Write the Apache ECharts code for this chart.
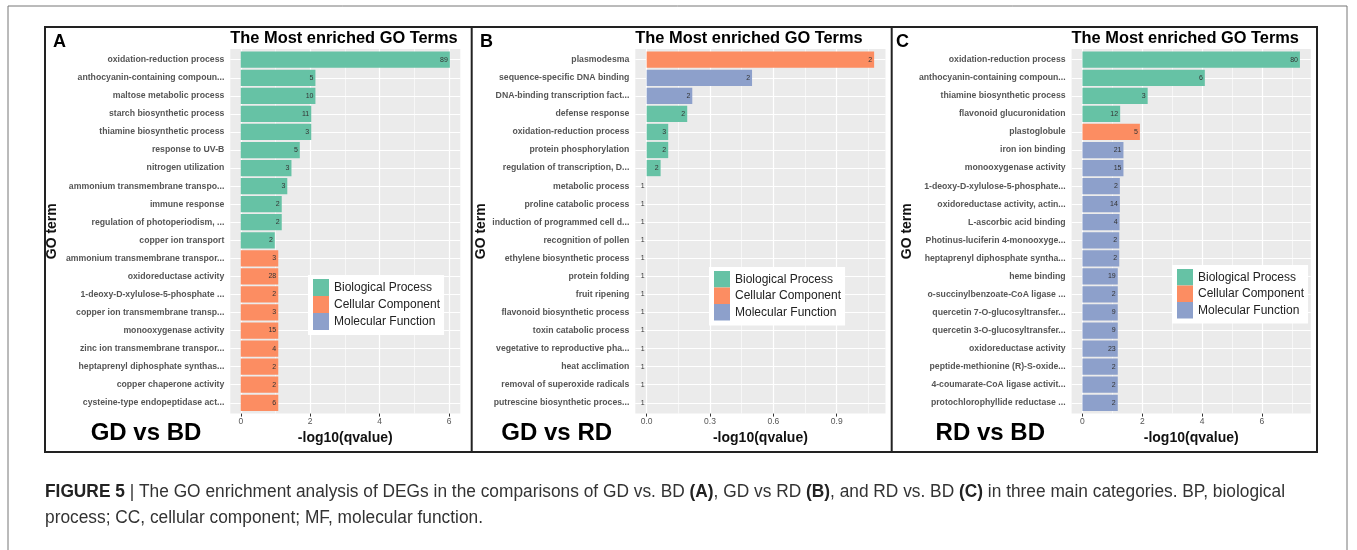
<!DOCTYPE html>
<html>
<head>
<meta charset="utf-8">
<script src="https://cdn.jsdelivr.net/npm/echarts@6/dist/echarts.min.js"></script>
<style>
  html, body { margin: 0; padding: 0; background: #fff; }
  #chart { width: 1357px; height: 550px; }
</style>
</head>
<body>
<div id="chart"></div>
<script>
// ---------- data ----------
const legendNames = ['Biological Process', 'Cellular Component', 'Molecular Function'];
const classKeys = ['BP', 'CC', 'MF'];

// A: GD vs BD
const termsA = [
  'oxidation-reduction process', 'anthocyanin-containing compoun...', 'maltose metabolic process',
  'starch biosynthetic process', 'thiamine biosynthetic process', 'response to UV-B',
  'nitrogen utilization', 'ammonium transmembrane transpo...', 'immune response',
  'regulation of photoperiodism, ...', 'copper ion transport', 'ammonium transmembrane transpor...',
  'oxidoreductase activity', '1-deoxy-D-xylulose-5-phosphate ...', 'copper ion transmembrane transp...',
  'monooxygenase activity', 'zinc ion transmembrane transpor...', 'heptaprenyl diphosphate synthas...',
  'copper chaperone activity', 'cysteine-type endopeptidase act...'
];
const qvalA = [6.02, 2.15, 2.15, 2.03, 2.03, 1.70, 1.46, 1.34, 1.18, 1.18, 0.98,
  1.08, 1.08, 1.08, 1.08, 1.08, 1.08, 1.08, 1.08, 1.08];
const countsA = [89, 5, 10, 11, 3, 5, 3, 3, 2, 2, 2, 3, 28, 2, 3, 15, 4, 2, 2, 6];
const classA = ['BP', 'BP', 'BP', 'BP', 'BP', 'BP', 'BP', 'BP', 'BP', 'BP', 'BP',
  'CC', 'CC', 'CC', 'CC', 'CC', 'CC', 'CC', 'CC', 'CC'];
const xTicksA = [0, 2, 4, 6];
const xMinorA = [1, 3, 5];

// B: GD vs RD
const termsB = [
  'plasmodesma', 'sequence-specific DNA binding', 'DNA-binding transcription fact...',
  'defense response', 'oxidation-reduction process', 'protein phosphorylation',
  'regulation of transcription, D...', 'metabolic process', 'proline catabolic process',
  'induction of programmed cell d...', 'recognition of pollen', 'ethylene biosynthetic process',
  'protein folding', 'fruit ripening', 'flavonoid biosynthetic process',
  'toxin catabolic process', 'vegetative to reproductive pha...', 'heat acclimation',
  'removal of superoxide radicals', 'putrescine biosynthetic proces...'
];
const qvalB = [1.077, 0.499, 0.216, 0.192, 0.102, 0.102, 0.066,
  0, 0, 0, 0, 0, 0, 0, 0, 0, 0, 0, 0, 0];
const countsB = [2, 2, 2, 2, 3, 2, 2, 1, 1, 1, 1, 1, 1, 1, 1, 1, 1, 1, 1, 1];
const classB = ['CC', 'MF', 'MF', 'BP', 'BP', 'BP', 'BP', 'BP', 'BP', 'BP',
  'BP', 'BP', 'BP', 'BP', 'BP', 'BP', 'BP', 'BP', 'BP', 'BP'];
const xTicksB = [0, 0.3, 0.6, 0.9];
const xMinorB = [0.15, 0.45, 0.75, 1.05];

// C: RD vs BD
const termsC = [
  'oxidation-reduction process', 'anthocyanin-containing compoun...', 'thiamine biosynthetic process',
  'flavonoid glucuronidation', 'plastoglobule', 'iron ion binding', 'monooxygenase activity',
  '1-deoxy-D-xylulose-5-phosphate...', 'oxidoreductase activity, actin...', 'L-ascorbic acid binding',
  'Photinus-luciferin 4-monooxyge...', 'heptaprenyl diphosphate syntha...', 'heme binding',
  'o-succinylbenzoate-CoA ligase ...', 'quercetin 7-O-glucosyltransfer...', 'quercetin 3-O-glucosyltransfer...',
  'oxidoreductase activity', 'peptide-methionine (R)-S-oxide...', '4-coumarate-CoA ligase activit...',
  'protochlorophyllide reductase ...'
];
const qvalC = [7.27, 4.09, 2.18, 1.26, 1.92, 1.37, 1.37, 1.25, 1.25, 1.24,
  1.23, 1.23, 1.18, 1.18, 1.18, 1.18, 1.18, 1.18, 1.18, 1.18];
const countsC = [80, 6, 3, 12, 5, 21, 15, 2, 14, 4, 2, 2, 19, 2, 9, 9, 23, 2, 2, 2];
const classC = ['BP', 'BP', 'BP', 'BP', 'CC', 'MF', 'MF', 'MF', 'MF', 'MF',
  'MF', 'MF', 'MF', 'MF', 'MF', 'MF', 'MF', 'MF', 'MF', 'MF'];
const xTicksC = [0, 2, 4, 6];
const xMinorC = [1, 3, 5, 7];

const panelTitle = 'The Most enriched GO Terms';
const panelLetters = ['A', 'B', 'C'];
const comparisons = ['GD vs BD', 'GD vs RD', 'RD vs BD'];
const xName = '-log10(qvalue)';
const yName = 'GO term';

// caption pieces: [text, bold]
const captionLine1 = [
  ['FIGURE 5', true], [' | The GO enrichment analysis of DEGs in the comparisons of GD vs. BD ', false],
  ['(A)', true], [', GD vs RD ', false], ['(B)', true], [', and RD vs. BD ', false],
  ['(C)', true], [' in three main categories. BP, biological', false]
];
const captionLine2 = 'process; CC, cellular component; MF, molecular function.';

// ---------- layout & style ----------
const FONT = "'Liberation Sans', Arial, Helvetica, sans-serif";
const COLORS = ['#66c2a5', '#fc8d62', '#8da0cb'];
const BG_TOP = 48.9, BG_H = 364.7;      // grey panel
const ROW_TOP = 50.7, ROW_H = 361.1;    // category band area

const layout = [
  { left: 230.3, right: 460.3, letterX: 53, compX: 146, yNameGap: 171,
    legend: { left: 308, top: 275, itemH: 17 } },
  { left: 635.3, right: 885.5, letterX: 480, compX: 556.7, yNameGap: 140,
    legend: { left: 709, top: 267, itemH: 16.5 } },
  { left: 1071.6, right: 1310.8, letterX: 896, compX: 990.3, yNameGap: 157,
    legend: { left: 1172, top: 265, itemH: 16.5 } }
];

const panels = [
  { terms: termsA, qv: qvalA, counts: countsA, cls: classA, ticks: xTicksA, minor: xMinorA },
  { terms: termsB, qv: qvalB, counts: countsB, cls: classB, ticks: xTicksB, minor: xMinorB },
  { terms: termsC, qv: qvalC, counts: countsC, cls: classC, ticks: xTicksC, minor: xMinorC }
];

const grids = [], xAxes = [], yAxes = [], series = [], legends = [], graphics = [];

panels.forEach((p, pi) => {
  const L = layout[pi];
  const maxQ = Math.max(...p.qv);
  const lo = -0.05 * maxQ, hi = 1.05 * maxQ;   // 5% expansion on both sides
  const width = L.right - L.left;
  const decimals = p.ticks.some(t => !Number.isInteger(t)) ? 1 : 0;

  // grey background grid carrying the value axis and its grid lines
  const bgIdx = grids.length;
  grids.push({ left: L.left, top: BG_TOP, width: width, height: BG_H, show: true,
    backgroundColor: '#ebebeb', borderWidth: 0, containLabel: false, outerBoundsMode: 'none' });
  xAxes.push({
    gridIndex: bgIdx, type: 'value', min: lo, max: hi, position: 'bottom',
    axisLine: { show: false },
    axisTick: { show: true, length: 3, lineStyle: { color: '#333', width: 1 }, customValues: p.ticks },
    axisLabel: { show: true, customValues: p.ticks, margin: 4, fontSize: 8.5, color: '#555',
      fontFamily: FONT, formatter: v => Number(v).toFixed(decimals) },
    splitLine: { show: true, lineStyle: { color: '#ffffff', width: 1.2 } },
    name: xName, nameLocation: 'middle', nameGap: 15,
    nameTextStyle: { fontSize: 14, fontWeight: 'bold', color: '#111', fontFamily: FONT }
  });
  xAxes.push({
    gridIndex: bgIdx, type: 'value', min: lo, max: hi, position: 'bottom',
    axisLine: { show: false },
    axisTick: { show: false, customValues: p.minor },
    axisLabel: { show: false, customValues: p.minor },
    splitLine: { show: true, lineStyle: { color: '#ffffff', width: 0.6 } }
  });
  yAxes.push({ gridIndex: bgIdx, type: 'value', show: false, min: 0, max: 1 });

  // category grid holding the bars
  const mainIdx = grids.length;
  grids.push({ left: L.left, top: ROW_TOP, width: width, height: ROW_H, show: false,
    containLabel: false, outerBoundsMode: 'none' });
  const mainX = xAxes.length;
  xAxes.push({ gridIndex: mainIdx, type: 'value', min: lo, max: hi, show: false });
  const mainY = yAxes.length;
  yAxes.push({
    gridIndex: mainIdx, type: 'category', data: p.terms, inverse: true,
    axisLine: { show: false },
    axisTick: { show: true, alignWithLabel: true, length: 3, lineStyle: { color: '#333', width: 1 } },
    axisLabel: { interval: 0, margin: 6, fontSize: 8.7, fontWeight: 'bold', color: '#555', fontFamily: FONT },
    splitLine: { show: false },
    name: yName, nameLocation: 'middle', nameRotate: 90, nameGap: L.yNameGap,
    nameTextStyle: { fontSize: 14, fontWeight: 'bold', color: '#111', fontFamily: FONT }
  });

  classKeys.forEach((ck, k) => {
    const s = {
      type: 'bar', name: legendNames[k], xAxisIndex: mainX, yAxisIndex: mainY,
      data: p.qv.map((v, i) => (p.cls[i] === ck ? v : '-')),
      barGap: '-100%', barCategoryGap: '10%', z: 3, silent: true,
      itemStyle: { color: COLORS[k] },
      label: { show: true, position: 'insideRight', distance: 2, fontSize: 7, color: '#333',
        fontFamily: FONT, formatter: prm => String(p.counts[prm.dataIndex]) }
    };
    if (k === 0) {
      // horizontal white grid lines through every category
      s.markLine = {
        silent: true, symbol: 'none', z: 1, animation: false,
        label: { show: false },
        lineStyle: { color: '#ffffff', width: 1.2, type: 'solid' },
        emphasis: { disabled: true },
        data: p.terms.map(t => ({ yAxis: t }))
      };
    }
    series.push(s);
  });

  legends.push({
    data: legendNames, orient: 'vertical', left: L.legend.left, top: L.legend.top,
    padding: [4, 4, 5, 5], itemWidth: 16, itemHeight: L.legend.itemH, itemGap: 0,
    backgroundColor: '#ffffff', icon: 'rect', selectedMode: false,
    textStyle: { fontSize: 12, color: '#222', fontFamily: FONT }
  });

  graphics.push({ type: 'text', x: L.left, y: 38, z: 10,
    style: { text: panelTitle, font: 'bold 16.4px ' + FONT, fill: '#000', align: 'left', verticalAlign: 'middle' } });
  graphics.push({ type: 'text', x: L.letterX, y: 42, z: 10,
    style: { text: panelLetters[pi], font: 'bold 18px ' + FONT, fill: '#000', align: 'left', verticalAlign: 'middle' } });
  graphics.push({ type: 'text', x: L.compX, y: 433, z: 10,
    style: { text: comparisons[pi], font: 'bold 24px ' + FONT, fill: '#000', align: 'center', verticalAlign: 'middle' } });
});

// frames
graphics.push({ type: 'polyline', z: 10, shape: { points: [[8, 550], [8, 6], [1347, 6], [1347, 550]] },
  style: { stroke: '#777', lineWidth: 1, fill: null } });
graphics.push({ type: 'rect', z: 10, shape: { x: 45, y: 27, width: 1272, height: 425 },
  style: { stroke: '#222', lineWidth: 2, fill: null } });
graphics.push({ type: 'line', z: 10, shape: { x1: 471.7, y1: 27, x2: 471.7, y2: 452 },
  style: { stroke: '#222', lineWidth: 2 } });
graphics.push({ type: 'line', z: 10, shape: { x1: 891.7, y1: 27, x2: 891.7, y2: 452 },
  style: { stroke: '#222', lineWidth: 2 } });

// caption in a horizontally condensed face
const CAP_SIZE = 17.5;
const CAP_LEFT = 45, CAP_LINE1_END = 1285;
const capFont = b => (b ? 'bold ' : '') + CAP_SIZE + 'px ' + FONT;
const mctx = document.createElement('canvas').getContext('2d');
const measure = (t, b) => { mctx.font = capFont(b); return mctx.measureText(t).width; };
const line1W = captionLine1.reduce((s, [t, b]) => s + measure(t, b), 0);
const capScale = (CAP_LINE1_END - CAP_LEFT) / line1W;
let cx = CAP_LEFT;
captionLine1.forEach(([t, b]) => {
  graphics.push({ type: 'text', x: cx, y: 492, scaleX: capScale, z: 10,
    style: { text: t, font: capFont(b), fill: b ? '#222' : '#333', align: 'left', verticalAlign: 'middle' } });
  cx += measure(t, b) * capScale;
});
graphics.push({ type: 'text', x: CAP_LEFT, y: 518, scaleX: capScale, z: 10,
  style: { text: captionLine2, font: capFont(false), fill: '#333', align: 'left', verticalAlign: 'middle' } });

const chart = echarts.init(document.getElementById('chart'), null, { renderer: 'canvas', width: 1357, height: 550 });
chart.setOption({
  animation: false,
  backgroundColor: '#ffffff',
  textStyle: { fontFamily: FONT },
  grid: grids,
  xAxis: xAxes,
  yAxis: yAxes,
  legend: legends,
  series: series,
  graphic: { elements: graphics }
});
</script>
</body>
</html>
